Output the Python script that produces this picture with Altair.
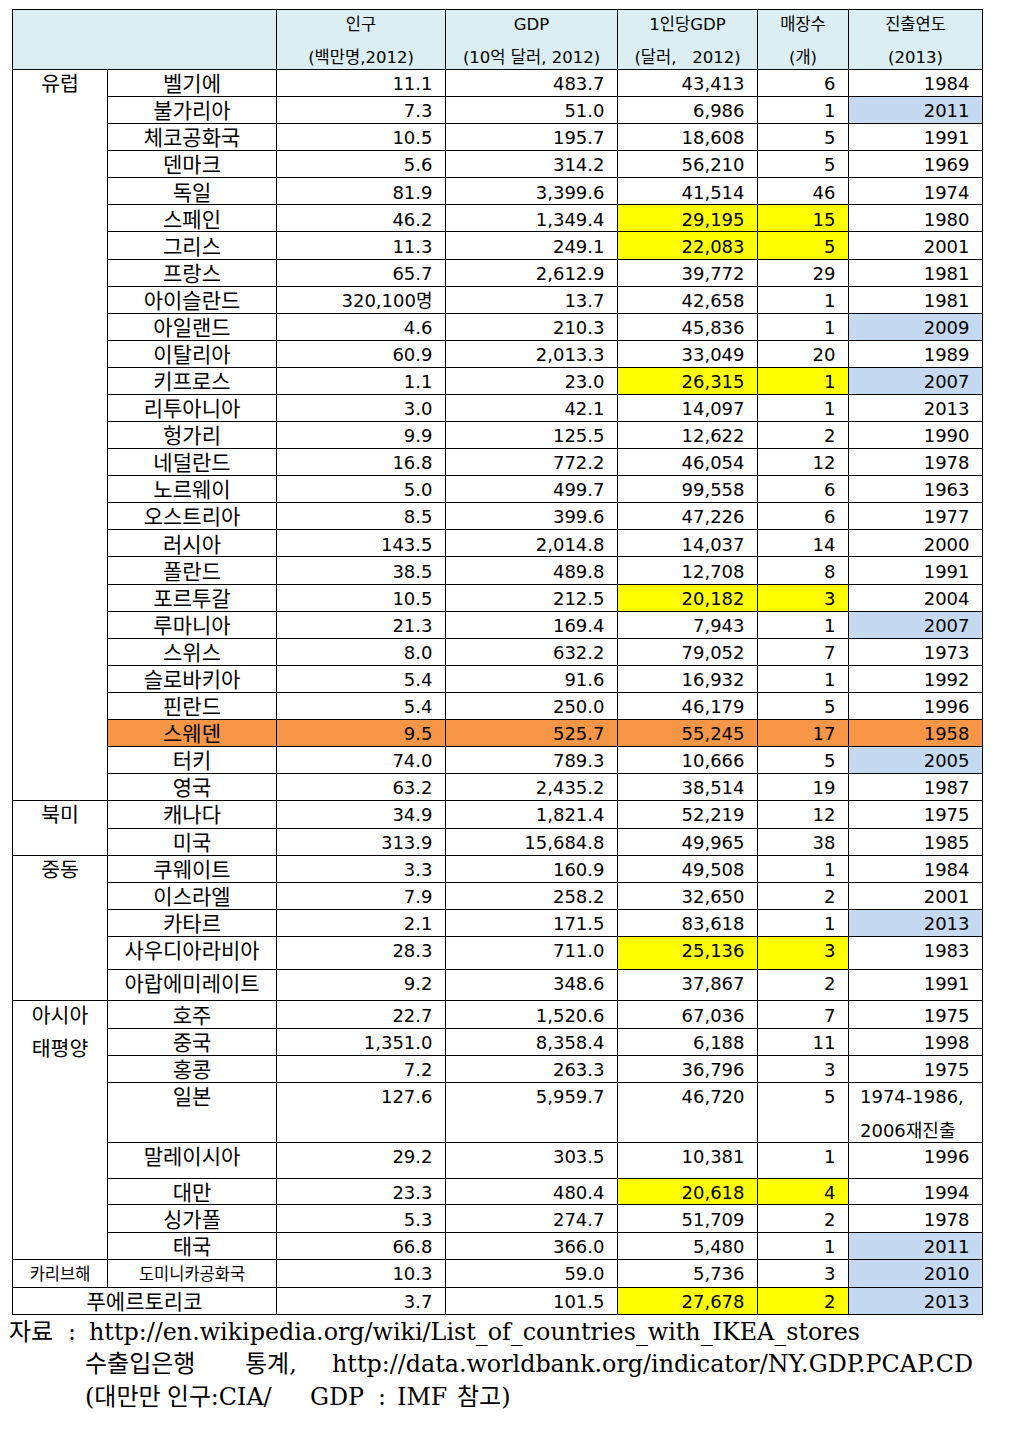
import math
import altair as alt
import pandas as pd

region_names = ["유럽", "북미", "중동", "아시아\n태평양", "카리브해"]
region_counts = [27, 2, 5, 8, 1]          # countries per region; the last row (푸에르토리코) has no region

countries = [
    "벨기에", "불가리아", "체코공화국", "덴마크", "독일", "스페인", "그리스", "프랑스", "아이슬란드",
    "아일랜드", "이탈리아", "키프로스", "리투아니아", "헝가리", "네덜란드", "노르웨이", "오스트리아",
    "러시아", "폴란드", "포르투갈", "루마니아", "스위스", "슬로바키아", "핀란드", "스웨덴", "터키", "영국",
    "캐나다", "미국",
    "쿠웨이트", "이스라엘", "카타르", "사우디아라비아", "아랍에미레이트",
    "호주", "중국", "홍콩", "일본", "말레이시아", "대만", "싱가폴", "태국",
    "도미니카공화국",
    "푸에르토리코",
]
population = [
    "11.1", "7.3", "10.5", "5.6", "81.9", "46.2", "11.3", "65.7", "320,100명",
    "4.6", "60.9", "1.1", "3.0", "9.9", "16.8", "5.0", "8.5",
    "143.5", "38.5", "10.5", "21.3", "8.0", "5.4", "5.4", "9.5", "74.0", "63.2",
    "34.9", "313.9",
    "3.3", "7.9", "2.1", "28.3", "9.2",
    "22.7", "1,351.0", "7.2", "127.6", "29.2", "23.3", "5.3", "66.8",
    "10.3",
    "3.7",
]
gdp = [
    "483.7", "51.0", "195.7", "314.2", "3,399.6", "1,349.4", "249.1", "2,612.9", "13.7",
    "210.3", "2,013.3", "23.0", "42.1", "125.5", "772.2", "499.7", "399.6",
    "2,014.8", "489.8", "212.5", "169.4", "632.2", "91.6", "250.0", "525.7", "789.3", "2,435.2",
    "1,821.4", "15,684.8",
    "160.9", "258.2", "171.5", "711.0", "348.6",
    "1,520.6", "8,358.4", "263.3", "5,959.7", "303.5", "480.4", "274.7", "366.0",
    "59.0",
    "101.5",
]
gdp_per_capita = [
    "43,413", "6,986", "18,608", "56,210", "41,514", "29,195", "22,083", "39,772", "42,658",
    "45,836", "33,049", "26,315", "14,097", "12,622", "46,054", "99,558", "47,226",
    "14,037", "12,708", "20,182", "7,943", "79,052", "16,932", "46,179", "55,245", "10,666", "38,514",
    "52,219", "49,965",
    "49,508", "32,650", "83,618", "25,136", "37,867",
    "67,036", "6,188", "36,796", "46,720", "10,381", "20,618", "51,709", "5,480",
    "5,736",
    "27,678",
]
stores = [
    "6", "1", "5", "5", "46", "15", "5", "29", "1",
    "1", "20", "1", "1", "2", "12", "6", "6",
    "14", "8", "3", "1", "7", "1", "5", "17", "5", "19",
    "12", "38",
    "1", "2", "1", "3", "2",
    "7", "11", "3", "5", "1", "4", "2", "1",
    "3",
    "2",
]
entry_year = [
    "1984", "2011", "1991", "1969", "1974", "1980", "2001", "1981", "1981",
    "2009", "1989", "2007", "2013", "1990", "1978", "1963", "1977",
    "2000", "1991", "2004", "2007", "1973", "1992", "1996", "1958", "2005", "1987",
    "1975", "1985",
    "1984", "2001", "2013", "1983", "1991",
    "1975", "1998", "1975", "1974-1986,\n2006재진출", "1996", "1994", "1978", "2011",
    "2010",
    "2013",
]
yellow_countries = ["스페인", "그리스", "키프로스", "포르투갈", "사우디아라비아", "대만", "푸에르토리코"]
blue_countries = ["불가리아", "아일랜드", "키프로스", "루마니아", "터키", "카타르", "태국", "도미니카공화국", "푸에르토리코"]
orange_countries = ["스웨덴"]

header_top = ["인구", "GDP", "1인당GDP", "매장수", "진출연도"]
header_bottom = ["(백만명,2012)", "(10억 달러, 2012)", "(달러,\u00a0\u00a0\u00a02012)", "(개)", "(2013)"]

source_lines = [
    [("자료", "kr"), (":", "en"), ("http://en.wikipedia.org/wiki/List_of_countries_with_IKEA_stores", "en")],
    [("수출입은행", "kr"), ("통계,", "kr"), ("http://data.worldbank.org/indicator/NY.GDP.PCAP.CD", "en")],
    [("(대만만", "kr"), ("인구:CIA/", "en"), ("GDP", "en"), (":", "en"), ("IMF", "en"), ("참고)", "kr")],
]

# ---------------- layout (styles / positions) ----------------
W, H = 993, 1420
COL_X = [12.5, 107.5, 276.5, 445.5, 617.5, 757.5, 848.5, 982.5]
HEAD_Y0, HEAD_Y1 = 9.5, 69.5
ROW_H = ([27.08] * 27 + [27.6, 27] + [27, 27, 27, 33, 31.7]
         + [27.3, 27, 27, 60, 36, 26.7, 27.3, 27] + [28] + [27])
SOURCE_X = [[9, 68, 89], [85, 245, 332], [85, 167, 310, 378, 397, 457]]
SOURCE_Y = [1333, 1365, 1398]
TEXT_DY = 15.7
SHRUNK = {"도미니카공화국": 16.5, "카리브해": 16.5}
C_HEAD = "#DAEEF3"
C_BLUE = "#C5D9F1"
C_YEL = "#FFFF00"
C_ORG = "#F79646"
SANS = "DejaVu Sans, Noto Sans CJK KR"
SERIF = "DejaVu Serif, Noto Sans CJK KR"

def crisp(v):
    return math.floor(v) + 0.5

tops = [HEAD_Y1]
for h in ROW_H:
    tops.append(tops[-1] + h)
lines_y = [HEAD_Y1] + [crisp(t) for t in tops[1:]]

# region index for every row
row_region = []
for r, n in enumerate(region_counts):
    row_region += [r] * n
row_region.append(None)

rects, rules, texts = [], [], []

# header
rects.append(dict(x=COL_X[0], x2=COL_X[-1], y=HEAD_Y0, y2=HEAD_Y1, fill=C_HEAD))
for i in range(5):
    cx = (COL_X[i + 2] + COL_X[i + 3]) / 2
    texts.append(dict(x=cx, y=24.5, text=header_top[i], size=16.5, kind="c"))
    texts.append(dict(x=cx, y=57.5, text=header_bottom[i], size=16.5, kind="c"))

for i, c in enumerate(countries):
    y0, y1 = lines_y[i], lines_y[i + 1]
    ty = tops[i] + TEXT_DY
    if c in orange_countries:
        rects.append(dict(x=COL_X[1], x2=COL_X[-1], y=y0, y2=y1, fill=C_ORG))
    if c in yellow_countries:
        rects.append(dict(x=COL_X[4], x2=COL_X[6], y=y0, y2=y1, fill=C_YEL))
    if c in blue_countries:
        rects.append(dict(x=COL_X[6], x2=COL_X[7], y=y0, y2=y1, fill=C_BLUE))
    if row_region[i] is None:
        cx = (COL_X[0] + COL_X[2]) / 2
    else:
        cx = (COL_X[1] + COL_X[2]) / 2
    texts.append(dict(x=cx, y=ty, text=c, size=SHRUNK.get(c, 21), kind="c"))
    for j, col in enumerate([population, gdp, gdp_per_capita, stores]):
        texts.append(dict(x=COL_X[j + 3] - 13, y=ty, text=col[i], size=18, kind="r"))
    yr = entry_year[i]
    if "\n" in yr:
        for k, part in enumerate(yr.split("\n")):
            texts.append(dict(x=COL_X[6] + 11.5, y=ty + 34 * k, text=part, size=18, kind="l"))
    else:
        texts.append(dict(x=COL_X[7] - 13, y=ty, text=yr, size=18, kind="r"))
    # horizontal line under this row
    last_in_group = (i == len(countries) - 1) or (row_region[i] != row_region[i + 1])
    rules.append(dict(x=COL_X[0] if last_in_group else COL_X[1], x2=COL_X[-1], y=y1, y2=y1))

# region labels
start = 0
for r, name in enumerate(region_names):
    for k, part in enumerate(name.split("\n")):
        texts.append(dict(x=(COL_X[0] + COL_X[1]) / 2, y=tops[start] + TEXT_DY + 33 * k,
                          text=part, size=SHRUNK.get(part, 20.5), kind="c"))
    start += region_counts[r]

# table frame lines
rules.append(dict(x=COL_X[0], x2=COL_X[-1], y=HEAD_Y0, y2=HEAD_Y0))
rules.append(dict(x=COL_X[0], x2=COL_X[-1], y=HEAD_Y1, y2=HEAD_Y1))
bottom = lines_y[-1]
for k, xv in enumerate(COL_X):
    if k == 1:
        rules.append(dict(x=xv, x2=xv, y=HEAD_Y1, y2=lines_y[-2]))
    else:
        rules.append(dict(x=xv, x2=xv, y=HEAD_Y0, y2=bottom))

# source note
for li, segs in enumerate(source_lines):
    for (txt, lang), sx in zip(segs, SOURCE_X[li]):
        texts.append(dict(x=sx, y=SOURCE_Y[li], text=txt, size=24 if lang == "kr" else 23.8, kind="s"))

rect_df = pd.DataFrame(rects)
rule_df = pd.DataFrame(rules)
text_df = pd.DataFrame(texts)

xs = alt.Scale(domain=[8, 8 + W], nice=False, zero=False)
ys = alt.Scale(domain=[8, 8 + H], nice=False, zero=False, reverse=True)

rect_layer = alt.Chart(rect_df).mark_rect().encode(
    x=alt.X("x:Q", scale=xs, axis=None), x2="x2:Q",
    y=alt.Y("y:Q", scale=ys, axis=None), y2="y2:Q",
    color=alt.Color("fill:N", scale=None),
)
rule_layer = alt.Chart(rule_df).mark_rule(color="black", strokeWidth=1, strokeCap="square").encode(
    x=alt.X("x:Q", scale=xs, axis=None), x2="x2:Q",
    y=alt.Y("y:Q", scale=ys, axis=None), y2="y2:Q",
)

def text_layer(kind, align, font):
    return alt.Chart(text_df[text_df.kind == kind]).mark_text(
        align=align, baseline="middle", font=font, color="black"
    ).encode(
        x=alt.X("x:Q", scale=xs, axis=None),
        y=alt.Y("y:Q", scale=ys, axis=None),
        text="text:N",
        size=alt.Size("size:Q", scale=None),
    )

chart = alt.layer(
    rect_layer,
    rule_layer,
    text_layer("c", "center", SANS),
    text_layer("r", "right", SANS),
    text_layer("l", "left", SANS),
    text_layer("s", "left", SERIF),
).properties(
    width=W, height=H, autosize="none", padding=0
).configure_view(stroke=None)

chart.save("out.html", embed_options={"renderer": "svg", "actions": False})
